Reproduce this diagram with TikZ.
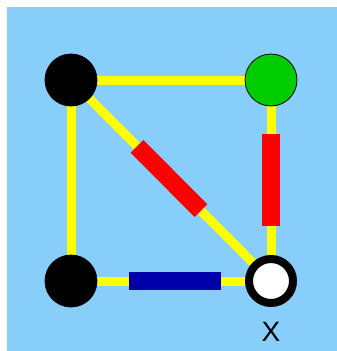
\documentclass[tikz,border=0pt]{standalone}
\usepackage{fontspec}
\setmainfont{Liberation Sans}
\usetikzlibrary{calc}
\pgfdeclarelayer{bg}
\pgfdeclarelayer{back}
\pgfsetlayers{back,bg,main}
\definecolor{skyback}{HTML}{87CEFA}
\definecolor{nodegreen}{HTML}{00CC00}
\definecolor{barred}{HTML}{FF0000}
\definecolor{barblue}{HTML}{0000AA}
\definecolor{edgeyellow}{HTML}{FFFF00}
\tikzset{
  vert/.style={circle, inner sep=0pt, minimum size=52pt, draw=black, line width=0.8pt},
  blacknode/.style={vert, fill=black},
  greennode/.style={vert, fill=nodegreen},
  ringnode/.style={circle, inner sep=0pt, minimum size=44pt, draw=black, line width=8pt, fill=white},
  yedge/.style={draw=edgeyellow, line width=9pt},
  redbar/.style={draw=barred, line width=18pt},
  bluebar/.style={draw=barblue, line width=18pt},
  lbl/.style={font=\fontsize{28}{30}\selectfont, inner sep=0pt}
}
\begin{document}
\begin{tikzpicture}[x=1pt,y=-1pt]
\useasboundingbox (0,0) rectangle (337,351);
\begin{pgfonlayer}{back}
\fill[skyback] (7,7) rectangle (337,351);
\end{pgfonlayer}
\node[blacknode] (tl) at (71,80) {};
\node[greennode] (tr) at (271,80) {};
\node[blacknode] (bl) at (71,281) {};
\node[ringnode] (br) at (271,281) {};
\node[lbl] (xl) at (271,332) {X};
\begin{pgfonlayer}{bg}
\draw[yedge] (tl) -- (tr);
\draw[yedge] (tl) -- (bl);
\draw[yedge] (tl) -- (br);
\draw[yedge] (tr) -- (br);
\draw[yedge] (bl) -- (br);
\end{pgfonlayer}
\draw[redbar] ($(tr)!0.27!(br)$) -- ($(tr)!0.725!(br)$);
\draw[bluebar] ($(bl)!0.29!(br)$) -- ($(bl)!0.75!(br)$);
\draw[redbar] ($(tl)!0.33!(br)$) -- ($(tl)!0.65!(br)$);
\end{tikzpicture}
\end{document}
